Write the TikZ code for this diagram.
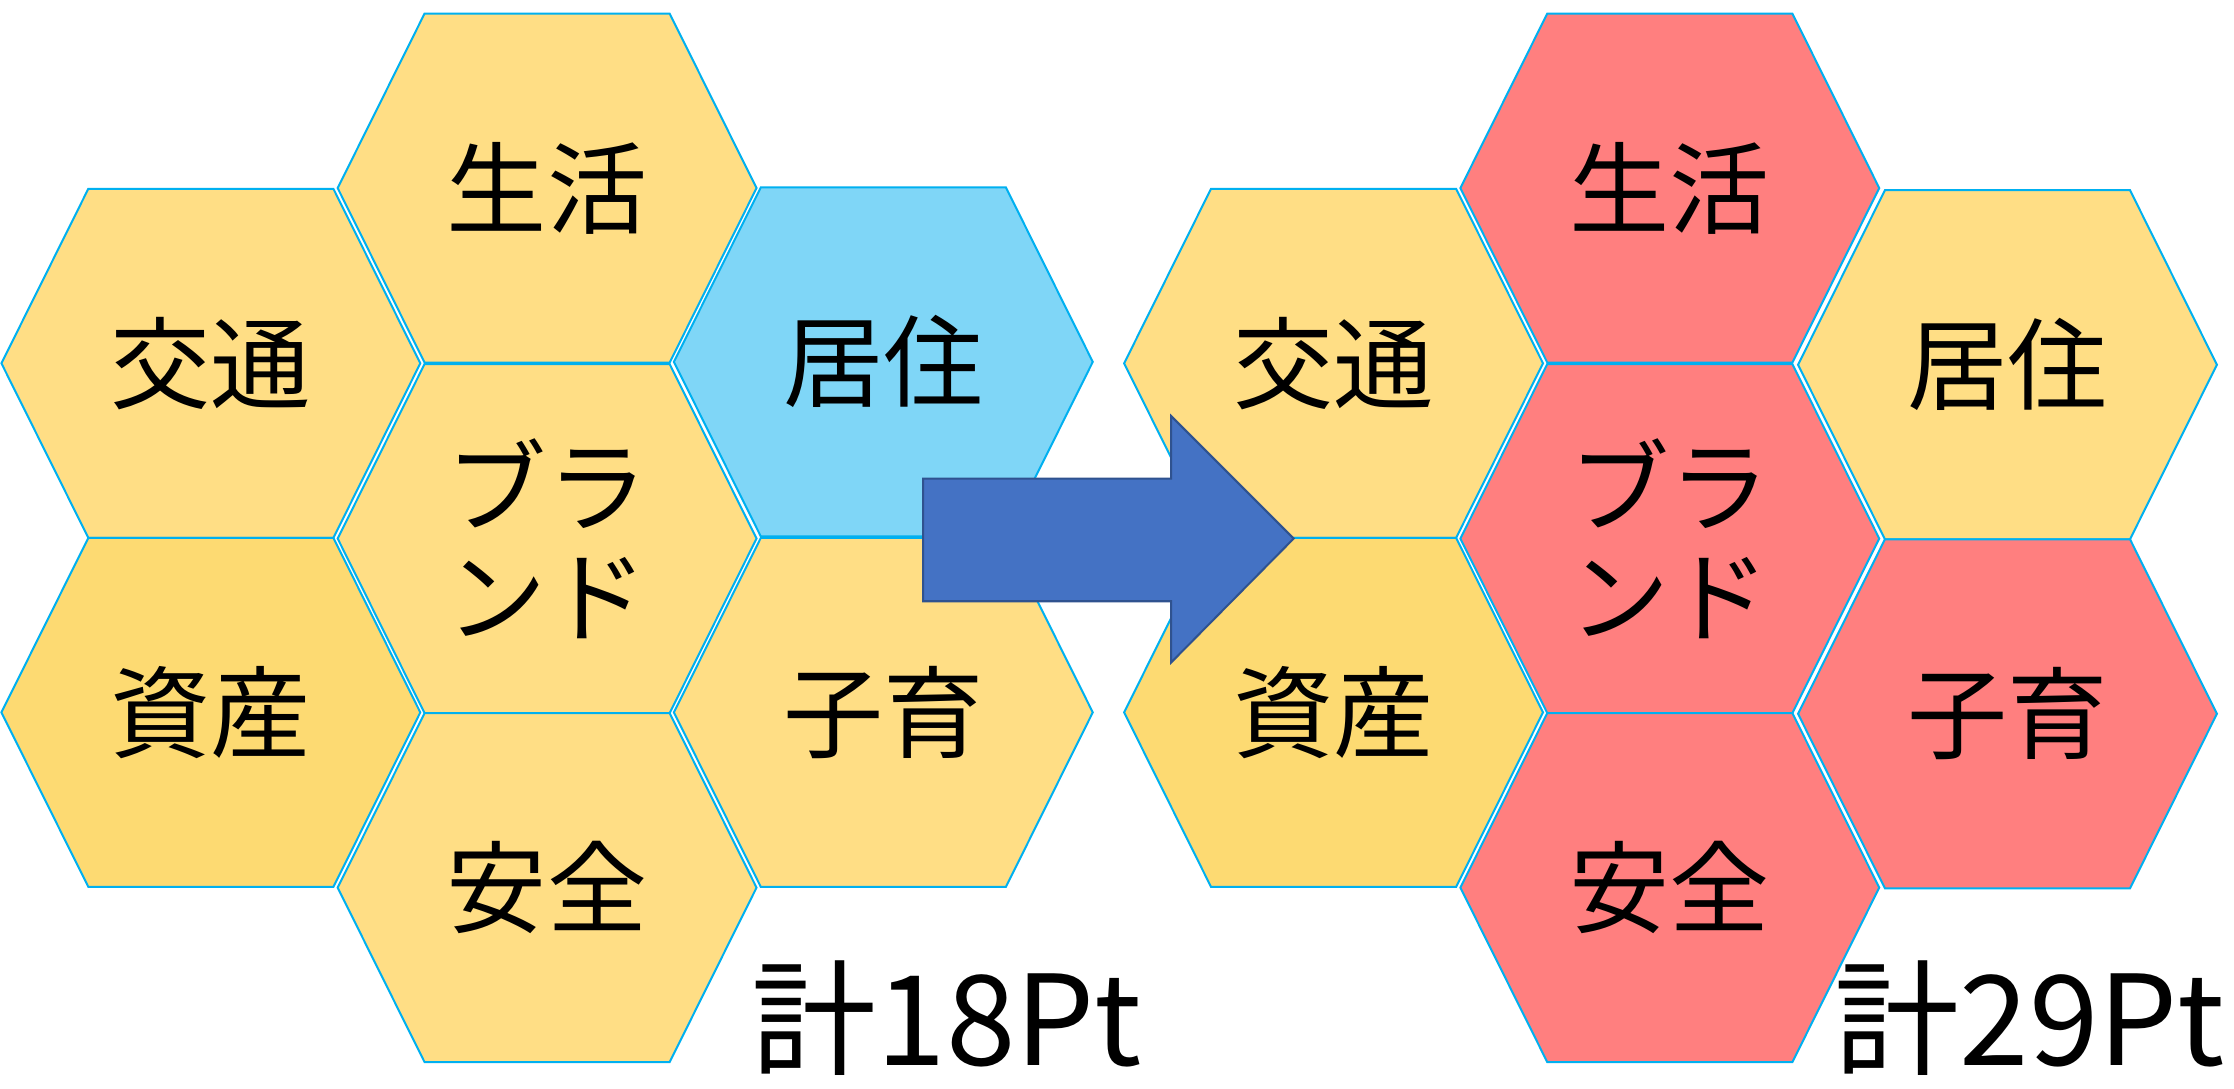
\documentclass[tikz,border=0pt]{standalone}
\usepackage{fontspec}
\newfontfamily\jp{Noto Sans CJK JP}
\definecolor{cellyellow}{HTML}{FFDE85}
\definecolor{celldeep}{HTML}{FDDA72}
\definecolor{cellblue}{HTML}{7FD6F7}
\definecolor{cellred}{HTML}{FF7F7F}
\definecolor{celledge}{HTML}{00B0F0}
\definecolor{arrowfill}{HTML}{4472C4}
\definecolor{arrowedge}{HTML}{2F528F}
\tikzset{
  hexline/.style={draw=celledge, line width=0.8pt},
  celltext/.style={font=\jp\fontsize{40}{44}\selectfont, align=center},
  totaltext/.style={font=\jp\fontsize{50}{50}\selectfont, inner sep=0pt}
}

\begin{document}
\begin{tikzpicture}[x=0.02cm, y=-0.02cm]
            \useasboundingbox (0,0) rectangle (1568,764);
            \fill[white] (0,0) rectangle (1568,764);

            % left cells
            \foreach \cx/\cy/\col/\nm/\txt in {
                384/132/cellyellow/lsei/生活,
                148/255/cellyellow/lkou/交通,
                148/500/celldeep/lshi/資産,
                384/378/cellyellow/lbra/ブラ\\ンド,
                384/623/cellyellow/lan/安全,
                620/254/cellblue/lkyo/居住,
                620/500/cellyellow/lko/子育} {
                \filldraw[hexline, fill=\col] (\cx-147,\cy) -- ++(61,-122.5) -- ++(172,0)
                    -- ++(61,122.5) -- ++(-61,122.5) -- ++(-172,0) -- cycle;
                \node[celltext] (\nm) at (\cx,\cy) {\txt};
            }

            % right cells
            \foreach \cx/\cy/\col/\nm/\txt in {
                1172/132/cellred/rsei/生活,
                936/255/cellyellow/rkou/交通,
                936/500/celldeep/rshi/資産,
                1172/378/cellred/rbra/ブラ\\ンド,
                1172/623/cellred/ran/安全,
                1409/256/cellyellow/rkyo/居住,
                1409/501/cellred/rko/子育} {
                \filldraw[hexline, fill=\col] (\cx-147,\cy) -- ++(61,-122.5) -- ++(172,0)
                    -- ++(61,122.5) -- ++(-61,122.5) -- ++(-172,0) -- cycle;
                \node[celltext] (\nm) at (\cx,\cy) {\txt};
            }

            % block arrow
            \filldraw[fill=arrowfill, draw=arrowedge, line width=0.8pt]
                (648,336) -- (822,336) -- (822,292) -- (908,378)
                -- (822,465) -- (822,422) -- (648,422) -- cycle;

            \node[totaltext, anchor=base east] (ltotal) at (802,748) {計18Pt};
            \node[totaltext, anchor=base east] (rtotal) at (1562,748) {計29Pt};
        \end{tikzpicture}
\end{document}
